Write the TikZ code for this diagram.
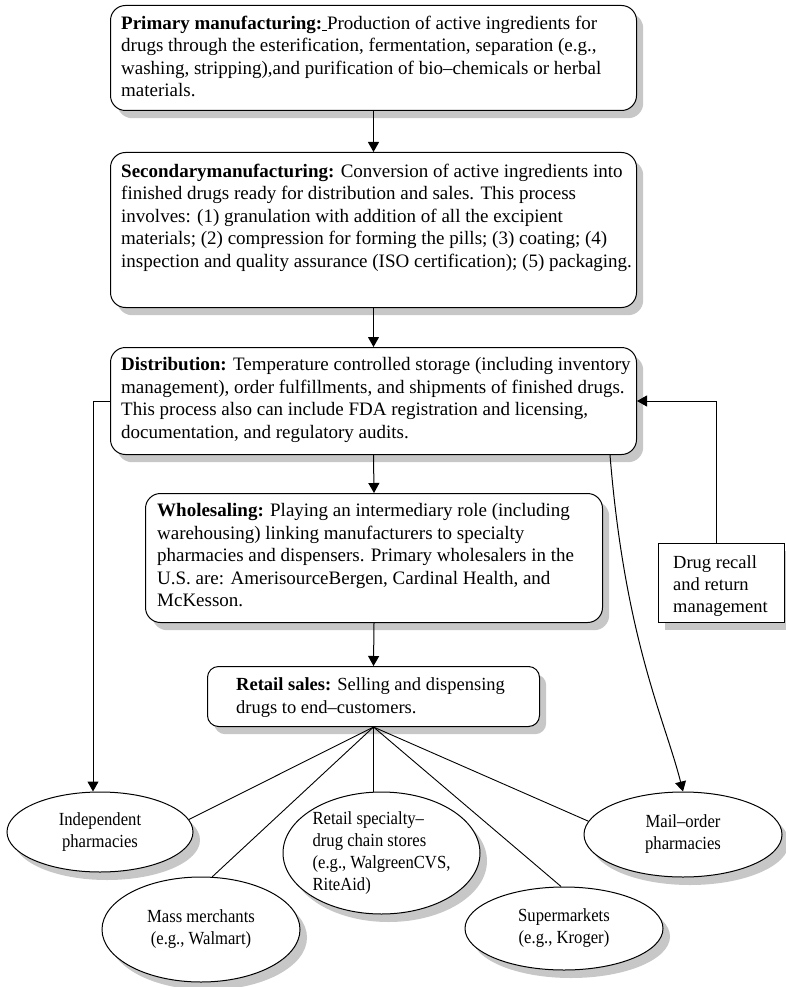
\documentclass[tikz,border=0pt]{standalone}
\usepackage{fontspec}
\setmainfont{Liberation Serif}
\newfontfamily\narrowserif{Liberation Serif}[FakeStretch=0.9]
\usetikzlibrary{arrows.meta,shapes.geometric,calc}
\colorlet{shadowgray}{black!22}

\tikzset{
  roundbox/.style={draw,line width=1pt,rounded corners=15pt,fill=white,
    anchor=north west,inner sep=0pt},
  smallround/.style={roundbox,rounded corners=11pt},
  plainbox/.style={draw,line width=1pt,fill=white,anchor=north west,inner sep=0pt},
  oval/.style={ellipse,draw,line width=1pt,fill=white,inner sep=0pt},
  % shadows are plain grey copies, set down first, 7 right and 8 down
  roundshade/.style={draw=none,fill=shadowgray,rounded corners=15pt,
    anchor=north west,inner sep=0pt},
  plainshade/.style={draw=none,fill=shadowgray,anchor=north west,inner sep=0pt},
  ovalshade/.style={ellipse,draw=none,fill=shadowgray,inner sep=0pt},
  bodytext/.style={anchor=north west,inner sep=0pt,align=left,
    font=\fontsize{19}{22.5}\selectfont},
  ovaltext/.style={inner sep=0pt,align=center,
    font=\narrowserif\fontsize{18.5}{22}\selectfont},
  flow/.style={line width=1pt,-{Triangle[length=10pt,width=11pt]}},
  link/.style={line width=0.9pt},
}

\begin{document}
\begin{tikzpicture}[x=1pt,y=-1pt]
\useasboundingbox (0,0) rectangle (786,987);

% drop shadows
\node[roundshade,minimum width=526pt,minimum height=105pt] (prim-sh) at (117,13) {};
\node[roundshade,minimum width=526pt,minimum height=155pt] (sec-sh) at (117,160) {};
\node[roundshade,minimum width=526pt,minimum height=107pt] (dist-sh) at (117,355) {};
\node[roundshade,minimum width=457pt,minimum height=129pt] (whole-sh) at (152,501) {};
\node[roundshade,rounded corners=11pt,minimum width=332pt,minimum height=60pt] (ret-sh) at (214,674) {};
\node[plainshade,minimum width=126pt,minimum height=79pt] (recall-sh) at (665,551) {};
\node[ovalshade,minimum width=186pt,minimum height=80pt] (indep-sh) at (107,840) {};
\node[ovalshade,minimum width=198pt,minimum height=105pt] (mass-sh) at (208,937.5) {};
\node[ovalshade,minimum width=197pt,minimum height=122pt] (spec-sh) at (388.5,861) {};
\node[ovalshade,minimum width=198pt,minimum height=83pt] (super-sh) at (571,936.5) {};
\node[ovalshade,minimum width=198pt,minimum height=85pt] (mail-sh) at (690,842.5) {};

% process boxes
\node[roundbox,minimum width=526pt,minimum height=105pt] (prim) at (110,5) {};
\node[roundbox,minimum width=526pt,minimum height=155pt] (sec) at (110,152) {};
\node[roundbox,minimum width=526pt,minimum height=107pt] (dist) at (110,347) {};
\node[roundbox,minimum width=457pt,minimum height=129pt] (whole) at (145,493) {};
\node[smallround,minimum width=332pt,minimum height=60pt] (ret) at (207,666) {};
\node[plainbox,minimum width=126pt,minimum height=79pt] (recall) at (658,543) {};

% box texts
\node[bodytext] (prim-t) at (121,15.5)
  {\textbf{Primary manufacturing:}\underline{\ }Production of active ingredients for\\
   drugs through the esterification, fermentation, separation (e.g.,\\
   washing, stripping),and purification of bio–chemicals or herbal\\
   materials.};
\node[bodytext] (sec-t) at (121,163.5)
  {\textbf{Secondarymanufacturing:} Conversion of active ingredients into\\
   finished drugs ready for distribution and sales. This process\\
   involves: (1) granulation with addition of all the excipient\\
   materials; (2) compression for forming the pills; (3) coating; (4)\\
   inspection and quality assurance (ISO certification); (5) packaging.};
\node[bodytext] (dist-t) at (121,357.5)
  {\textbf{Distribution:} Temperature controlled storage (including inventory\\
   management), order fulfillments, and shipments of finished drugs.\\
   This process also can include FDA registration and licensing,\\
   documentation, and regulatory audits.};
\node[bodytext] (whole-t) at (157,503.5)
  {\textbf{Wholesaling:} Playing an intermediary role (including\\
   warehousing) linking manufacturers to specialty\\
   pharmacies and dispensers. Primary wholesalers in the\\
   U.S. are: AmerisourceBergen, Cardinal Health, and\\
   McKesson.};
\node[bodytext,font=\fontsize{18.5}{22.5}\selectfont] (ret-t) at (236,677.5)
  {\textbf{Retail sales:} Selling and dispensing\\
   drugs to end–customers.};
\node[bodytext,font=\fontsize{18.5}{22}\selectfont] (recall-t) at (673,555)
  {Drug recall\\and return\\management};

% outlets
\node[oval,minimum width=186pt,minimum height=80pt] (indep) at (100,832) {};
\node[oval,minimum width=198pt,minimum height=105pt] (mass) at (201,929.5) {};
\node[oval,minimum width=197pt,minimum height=122pt] (spec) at (381.5,853) {};
\node[oval,minimum width=198pt,minimum height=83pt] (super) at (564,928.5) {};
\node[oval,minimum width=198pt,minimum height=85pt] (mail) at (683,834.5) {};

\node[ovaltext] (indep-t) at (indep) {Independent\\pharmacies};
\node[ovaltext] (mass-t) at (mass) {Mass merchants\\(e.g., Walmart)};
\node[ovaltext,align=left] (spec-t) at (spec)
  {Retail specialty–\\drug chain stores\\(e.g., WalgreenCVS,\\RiteAid)};
\node[ovaltext] (super-t) at (super) {Supermarkets\\(e.g., Kroger)};
\node[ovaltext] (mail-t) at (mail) {Mail–order\\pharmacies};

% main flow
\draw[flow] (prim.south) -- (sec.north);
\draw[flow] (sec.south) -- (dist.north);
\draw[flow] (dist.south) -- (whole.north);
\draw[flow] (whole.south) -- (ret.north);

% side channels out of distribution
\coordinate (indep-in) at ($(indep.north)+(-7,0)$);
\draw[flow] (dist.west) -- ++(-17,0) -- (indep-in);
\coordinate (dist-out) at ($(dist.south east)+(-27,0)$);
\draw[flow] (dist-out) .. controls (625,640) and (665,720) .. (mail.north);

% recall loop back into distribution
\coordinate (recall-top) at ($(recall.north)+(-5,0)$);
\draw[flow] (recall-top) |- (dist.east);

% retail fan-out
\draw[link] (ret.south) -- (indep.8);
\draw[link] (ret.south) -- (mass.78);
\draw[link] (ret.south) -- (ret.south |- spec.north);
\draw[link] (ret.south) -- (super.94);
\draw[link] (ret.south) -- (mail.172);
\end{tikzpicture}
\end{document}
